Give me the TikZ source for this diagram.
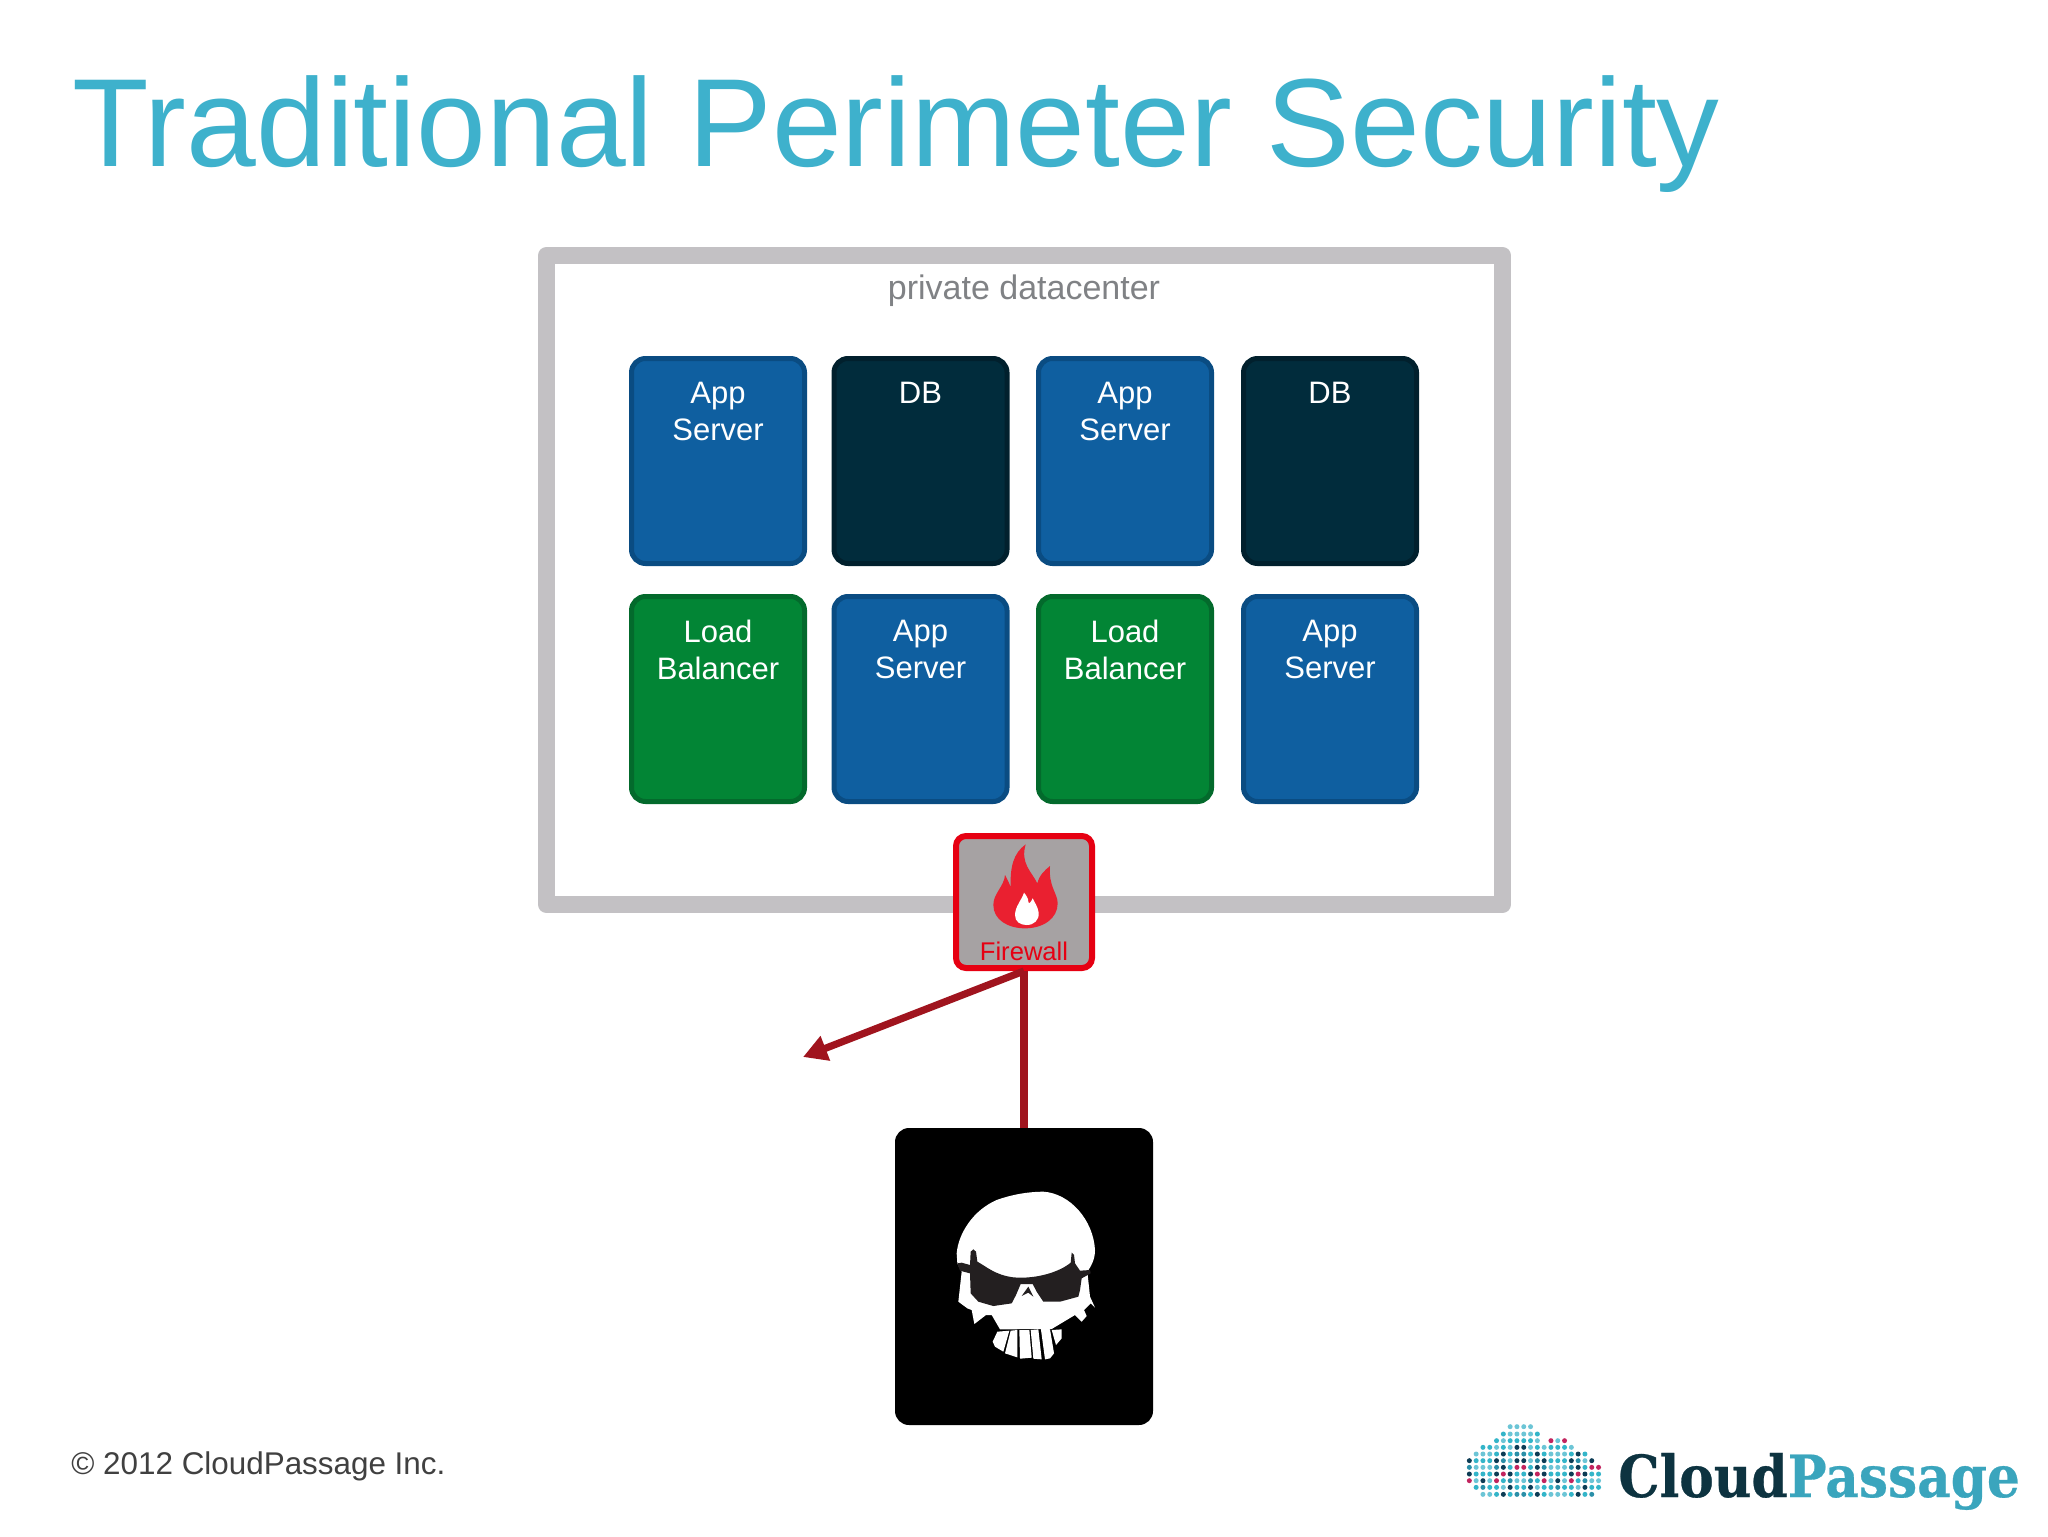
\documentclass[tikz,border=0pt]{standalone}
\usepackage{fontspec}
\setmainfont{Liberation Sans}
\newfontfamily\slabfont[UprightFont=* Bold,FakeBold=0.5]{DejaVu Serif}
\usetikzlibrary{arrows.meta}
\definecolor{titleblue}{HTML}{3EB1CC}
\definecolor{framegray}{HTML}{C3C1C4}
\definecolor{labelgray}{HTML}{808285}
\definecolor{appfill}{HTML}{0F5FA0}
\definecolor{appedge}{HTML}{0A4C82}
\definecolor{dbfill}{HTML}{012C3C}
\definecolor{dbedge}{HTML}{01202D}
\definecolor{lbfill}{HTML}{028535}
\definecolor{lbedge}{HTML}{036A2C}
\definecolor{fwfill}{HTML}{A6A2A3}
\definecolor{fwred}{HTML}{E60012}
\definecolor{flamered}{HTML}{EA2030}
\definecolor{arrowred}{HTML}{A0141E}
\definecolor{glassdark}{HTML}{231F20}
\definecolor{logodark}{HTML}{0D3340}
\definecolor{logoteal}{HTML}{3AA5BD}
\definecolor{dotA}{HTML}{33B5C9}
\definecolor{dotB}{HTML}{0D3C55}
\definecolor{dotC}{HTML}{6CC5D6}
\definecolor{dotD}{HTML}{C2245E}
\definecolor{dotE}{HTML}{2A8FA8}
\tikzset{
  srvbox/.style={rounded corners=7pt,line width=2.5pt,minimum width=86.5pt,minimum height=102.5pt,inner sep=0pt},
  appbox/.style={srvbox,fill=appfill,draw=appedge},
  dbbox/.style={srvbox,fill=dbfill,draw=dbedge},
  lbbox/.style={srvbox,fill=lbfill,draw=lbedge},
  srvtext/.style={text=white,align=center,anchor=north,inner sep=0pt,font=\fontsize{15.5}{18.8}\selectfont},
  flow/.style={draw=arrowred,line width=4pt},
}
\begin{document}
\begin{tikzpicture}[x=0.5pt,y=-0.5pt]
\path[use as bounding box,fill=white] (0,0) rectangle (2048,1536);
\node[anchor=base west,inner sep=0pt,text=titleblue,font=\fontsize{62.7}{72}\selectfont] (title) at (72.5,166) {Traditional Perimeter Security};
% datacenter frame
\node[draw=framegray,line width=8.5pt,line join=round,minimum width=478pt,minimum height=324.5pt,inner sep=0pt] (frame) at (1024.5,580) {};
\node[anchor=base,inner sep=0pt,text=labelgray,font=\fontsize{17}{20}\selectfont] (dclabel) at (1024,299.5) {private datacenter};
% servers
\node[appbox] (a1) at (718,461) {};
\node[dbbox]  (a2) at (920.5,461) {};
\node[appbox] (a3) at (1125,461) {};
\node[dbbox]  (a4) at (1330,461) {};
\node[lbbox]  (b1) at (718,699) {};
\node[appbox] (b2) at (920.5,699) {};
\node[lbbox]  (b3) at (1125,699) {};
\node[appbox] (b4) at (1330,699) {};
\node[srvtext] (ta1) at ([yshift=-12.7pt]a1.north) {App\\Server};
\node[srvtext] (ta2) at ([yshift=-12.7pt]a2.north) {DB};
\node[srvtext] (ta3) at ([yshift=-12.7pt]a3.north) {App\\Server};
\node[srvtext] (ta4) at ([yshift=-12.7pt]a4.north) {DB};
\node[srvtext] (tb1) at ([yshift=-12.7pt]b1.north) {Load\\Balancer};
\node[srvtext] (tb2) at ([yshift=-12.7pt]b2.north) {App\\Server};
\node[srvtext] (tb3) at ([yshift=-12.7pt]b3.north) {Load\\Balancer};
\node[srvtext] (tb4) at ([yshift=-12.7pt]b4.north) {App\\Server};
% firewall
\node[draw=fwred,fill=fwfill,line width=3pt,rounded corners=5pt,minimum width=68pt,minimum height=66pt,inner sep=0pt] (fw) at (1024,902) {};
\node[anchor=base,inner sep=0pt,text=fwred,font=\fontsize{12.8}{15}\selectfont] (fwlabel) at (1024,960) {Firewall};
\begin{scope}[shift={(880,800)},x=0.16667pt,y=-0.16667pt]
\fill[flamered] (437,133) .. controls (400,160) and (390,200) .. (392,262)
 .. controls (388,250) and (382,238) .. (375,225)
 .. controls (372,260) and (340,280) .. (340,315)
 .. controls (340,360) and (385,385) .. (435,385)
 .. controls (490,385) and (533,355) .. (533,310)
 .. controls (533,280) and (505,260) .. (510,198)
 .. controls (495,210) and (478,225) .. (472,250)
 .. controls (455,215) and (420,190) .. (437,133) -- cycle;
\fill[white] (432,278) .. controls (425,300) and (405,320) .. (405,345)
 .. controls (405,365) and (420,375) .. (440,375)
 .. controls (462,375) and (478,360) .. (476,338)
 .. controls (474,320) and (462,305) .. (458,295)
 .. controls (452,310) and (445,312) .. (445,305)
 .. controls (445,295) and (438,285) .. (432,278) -- cycle;
\end{scope}
% attacker
\node[fill=black,rounded corners=7pt,minimum width=129pt,minimum height=148.5pt,inner sep=0pt] (hacker) at (1024,1276.5) {};
\begin{scope}[shift={(880,1120)},x=0.16667pt,y=-0.16667pt]
\fill[white] (230,400) .. controls (235,340) and (280,270) .. (350,240)
 .. controls (400,222) and (450,215) .. (490,215)
 .. controls (570,220) and (640,300) .. (645,390)
 .. controls (645,420) and (632,440) .. (622,455)
 -- (630,530) -- (645,563) -- (632,550) -- (612,570) -- (620,588) -- (605,605) -- (585,585)
 -- (515,627) -- (360,628) -- (335,585) -- (318,585) -- (283,612) -- (275,570) -- (262,565)
 -- (235,545) -- (245,455) -- (232,430) -- cycle;
\fill[white] (352,635) -- (388,632) -- (370,695) -- (345,680) -- (338,665) -- cycle;
\fill[white] (392,632) -- (412,630) -- (412,712) -- (375,700) -- cycle;
\fill[white] (418,630) -- (448,630) -- (455,713) -- (420,716) -- cycle;
\fill[white] (452,630) -- (475,628) -- (485,718) -- (460,716) -- cycle;
\fill[white] (482,622) -- (510,628) -- (522,700) -- (510,715) -- (495,718) -- cycle;
\fill[white] (515,630) -- (545,628) -- (545,655) -- (528,675) -- cycle;
\fill[glassdark] (272,395) -- (280,388) -- (288,395) -- (292,425)
 .. controls (320,440) and (345,465) .. (400,472)
 .. controls (470,478) and (540,455) .. (572,428)
 -- (575,398) -- (582,405) -- (585,430) -- (600,452) -- (630,450) -- (632,460) -- (605,475)
 -- (600,510) -- (595,530) -- (540,545) -- (490,545) -- (470,515) -- (458,492) -- (422,492)
 -- (408,525) -- (395,550) -- (340,558) -- (295,545) -- (272,520) -- (270,460) -- (240,452)
 -- (232,430) -- (245,428) -- (270,435) -- cycle;
\fill[glassdark] (445,500) -- (425,528) -- (445,518) -- (460,530) -- cycle;
\end{scope}
% connectors
\coordinate (deflect) at (803,1057);
\path[flow] (hacker.north) -- (fw.south);
\draw[flow,line width=3.6pt,-{Triangle[length=12pt,width=12.5pt]}] (fw.south) -- (deflect);
% footer
\node[anchor=base west,inner sep=0pt,text=black!75,font=\fontsize{15.7}{18}\selectfont] (copy) at (71,1474) {© 2012 CloudPassage Inc.};
% logo
\begin{scope}[shift={(1450,1410)},x=0.16667pt,y=-0.16667pt]
\foreach \ry/\ca/\cb in {50/6/9,72/5/10,92/4/10,92/12/14,112/2/15,132/1/17,152/0/18,172/0/19,192/0/19,212/0/19,232/1/19,253/2/18}{
  \foreach \c in {\ca,...,\cb}{
    \pgfmathtruncatemacro{\k}{mod(\c*7+\ry*3+\c*\c,11)}
    \ifnum\k<4 \def\dc{dotA}\else\ifnum\k<6 \def\dc{dotB}\else\ifnum\k<9 \def\dc{dotC}\else\ifnum\k=9 \def\dc{dotD}\else\def\dc{dotE}\fi\fi\fi\fi
    \fill[\dc] ({58+20.4*\c},\ry) circle (7.5);
  }
}
\end{scope}
\node[anchor=base west,inner sep=0pt,xscale=0.893,font=\slabfont\fontsize{29}{32}\selectfont] (logo) at (1618,1497) {\textcolor{logodark}{Cloud}\textcolor{logoteal}{Passage}};
\end{tikzpicture}
\end{document}
